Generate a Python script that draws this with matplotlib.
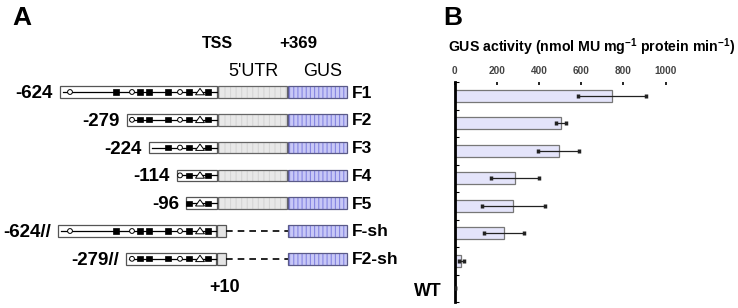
import matplotlib
matplotlib.use("Agg")
import matplotlib.pyplot as plt
from matplotlib.patches import Rectangle, Circle, Polygon

# --- Data ---
constructs = ['F1', 'F2', 'F3', 'F4', 'F5', 'F-sh', 'F2-sh']
start_labels = ['-624', '-279', '-224', '-114', '-96', '-624//', '-279//']
# drawn length of each promoter fragment upstream of TSS (diagram units, not to scale)
upstream_len = [157, 90, 68, 40, 31, 159, 91]
short_utr = [False, False, False, False, False, True, True]

# cis-elements: drawn distance upstream of TSS and symbol type
motif_pos = [147, 101, 85, 77, 68, 49, 37, 28, 17, 9]
motif_kind = ['o', 's', 'o', 's', 's', 's', 'o', 's', '^', 's']

bar_labels = ['F1', 'F2', 'F3', 'F4', 'F5', 'F-sh', 'F2-sh', 'WT']
gus_mean = [745, 504, 493, 286, 278, 233, 32, 0]
gus_err = [160, 23, 97, 113, 149, 95, 11, 0]
x_ticks = [0, 200, 400, 600, 800, 1000]

# --- Figure ---
plt.rcParams['font.family'] = ['Liberation Sans', 'DejaVu Sans']
plt.rcParams['hatch.linewidth'] = 0.8
W, H = 738, 308
fig = plt.figure(figsize=(W / 100, H / 100), dpi=100)

# panel A drawn in pixel units
ax = fig.add_axes([0, 0, 1, 1])
ax.set_xlim(0, W)
ax.set_ylim(H, 0)
ax.axis('off')

tss_x = 217
utr_end = 287
gus_l, gus_r = 288, 347
row0, row_step, box_h = 92, 27.8, 11.5

for i, name in enumerate(constructs):
    y = row0 + i * row_step
    top = y - box_h / 2
    left = tss_x - upstream_len[i]
    p_right = tss_x - 1 if short_utr[i] else tss_x
    # promoter box + line
    ax.add_patch(Rectangle((left, top), p_right - left, box_h,
                           fc='white', ec='#555555', lw=0.9, zorder=2))
    ax.plot([left + 3, p_right], [y, y], color='black', lw=0.9, zorder=3)
    for pos, kind in zip(motif_pos, motif_kind):
        if pos > upstream_len[i] - 3:
            continue
        mx = tss_x - pos
        if kind == 's':
            ax.add_patch(Rectangle((mx - 2.6, y - 2.6), 5.2, 5.2, fc='black', ec='black', lw=0.5, zorder=4))
        elif kind == 'o':
            ax.add_patch(Circle((mx, y), 2.4, fc='white', ec='black', lw=0.7, zorder=4))
        else:
            ax.add_patch(Polygon([[mx - 4.5, y + 2.8], [mx + 4.5, y + 2.8], [mx, y - 3.6]],
                                 closed=True, fc='white', ec='black', lw=0.7, zorder=4))
    if short_utr[i]:
        ax.add_patch(Rectangle((tss_x, top), 9, box_h,
                               fc='#e4e4e4', ec='#555555', lw=0.9, zorder=2))
        ax.plot([tss_x + 9, gus_l], [y, y], color='black', lw=1.2, ls=(0, (4, 3)), zorder=2)
    else:
        ax.add_patch(Rectangle((tss_x + 1, top), utr_end - tss_x - 1, box_h,
                               fc='#e8e8e8', ec='#d6d6d6', lw=0, hatch='|||', zorder=2))
        ax.add_patch(Rectangle((tss_x + 1, top), utr_end - tss_x - 1, box_h,
                               fc='none', ec='#666666', lw=0.9, zorder=3))
    ax.add_patch(Rectangle((gus_l, top), gus_r - gus_l, box_h,
                           fc='#c8c8f6', ec='#8686e2', lw=0, hatch='||||', zorder=2))
    ax.add_patch(Rectangle((gus_l, top), gus_r - gus_l, box_h,
                           fc='none', ec='#5a5a88', lw=0.9, zorder=3))
    ax.text(gus_r + 5, y + 1, name, ha='left', va='center', fontsize=12.5,
            fontweight='bold')
    ax.text(left - 7, y + 1.5, start_labels[i], ha='right', va='center', fontsize=13.5,
            fontweight='bold')

ax.text(12, 18, 'A', ha='left', va='center', fontsize=19, fontweight='bold')
ax.text(443, 18, 'B', ha='left', va='center', fontsize=19, fontweight='bold')
ax.text(217, 43, 'TSS', ha='center', va='center', fontsize=11.5, fontweight='bold')
ax.text(298, 44, '+369', ha='center', va='center', fontsize=12.2, fontweight='bold')
ax.text(253, 71, "5'UTR", ha='center', va='center', fontsize=13)
ax.text(323, 71, 'GUS', ha='center', va='center', fontsize=13)
ax.text(225, 287, '+10', ha='center', va='center', fontsize=13, fontweight='bold')
ax.text(592, 47, r'GUS activity (nmol MU mg$^{\mathregular{-1}}$ protein min$^{\mathregular{-1}}$)',
        ha='center', va='center', fontsize=10.2, fontweight='bold')
ax.text(428, 292, 'WT', ha='center', va='center', fontsize=12.8, fontweight='bold')

# --- Panel B: bar chart ---
x0, x1, y0, y1 = 454.5, 665.7, 82, 302
bx = fig.add_axes([x0 / W, 1 - y1 / H, (x1 - x0) / W, (y1 - y0) / H])
bx.patch.set_alpha(0)
ypos = list(range(len(bar_labels)))
bx.barh(ypos, gus_mean, height=0.43, color='#e4e4fa', edgecolor='#777777', lw=0.9, zorder=2)
bx.errorbar(gus_mean, ypos, xerr=gus_err, fmt='none', ecolor='#222222', elinewidth=0.9,
            capsize=1.2, capthick=2.5, zorder=3)
bx.set_xlim(0, 1000)
bx.set_ylim(len(bar_labels) - 0.5, -0.5)
bx.xaxis.tick_top()
bx.set_xticks(x_ticks)
bx.set_xticklabels([str(t) for t in x_ticks], fontsize=7.2, fontweight='bold', color='#444444')
bx.tick_params(axis='x', direction='in', length=2.5, width=1.2, pad=4)
bx.set_yticks([k - 0.5 for k in range(len(bar_labels) + 1)])
bx.set_yticklabels([])
bx.tick_params(axis='y', direction='in', length=3, width=0.8)
for s in ['top', 'right', 'bottom']:
    bx.spines[s].set_visible(False)
bx.spines['left'].set_linewidth(2)

fig.savefig('out.png', dpi=100)
